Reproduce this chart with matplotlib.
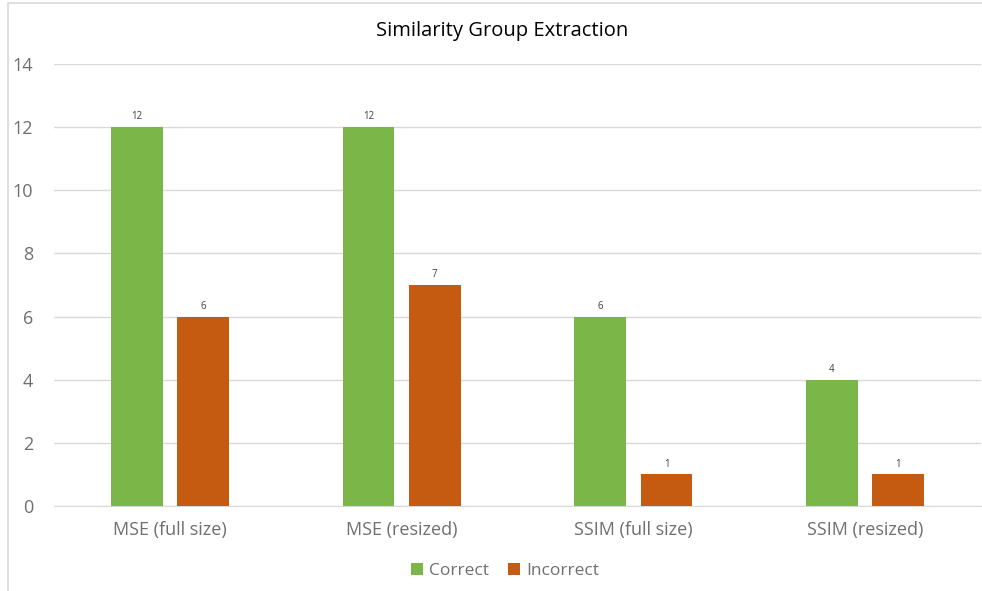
import matplotlib
matplotlib.use("Agg")
import matplotlib.pyplot as plt
import numpy as np
from matplotlib.patches import Rectangle

categories = ["MSE (full size)", "MSE (resized)", "SSIM (full size)", "SSIM (resized)"]
correct = [12, 12, 6, 4]
incorrect = [6, 7, 1, 1]
series_names = ["Correct", "Incorrect"]
yticks = [0, 2, 4, 6, 8, 10, 12, 14]

plt.rcParams["font.family"] = ["Open Sans", "DejaVu Sans"]

W, H = 982, 591
fig = plt.figure(figsize=(W / 100, H / 100), dpi=100)
fig.patch.set_facecolor("white")

# outer chart frame
fig.add_artist(Rectangle((8 / W, -0.01), 1.0, (H - 3) / H + 0.01, transform=fig.transFigure,
                         fill=False, edgecolor="#d9d9d9", linewidth=1.2))

ax = fig.add_axes([54 / W, (H - 506) / H, (981 - 54) / W, (506 - 64) / H])

x = np.arange(len(categories))
bw = 0.224
off = 0.143
green = "#7ab648"
orange = "#c55a11"
label_grey = "#6f6f6f"

b1 = ax.bar(x - off, correct, bw, color=green, label=series_names[0], zorder=3)
b2 = ax.bar(x + off, incorrect, bw, color=orange, label=series_names[1], zorder=3)

for bars, vals in ((b1, correct), (b2, incorrect)):
    for r, v in zip(bars, vals):
        ax.annotate(str(v), (r.get_x() + r.get_width() / 2, v), xytext=(0, 3.5),
                    textcoords="offset points", ha="center", va="bottom",
                    fontsize=7, color="#404040")

ax.set_xlim(-0.5, len(categories) - 0.5)
ax.set_ylim(0, 14)
ax.set_yticks(yticks)
ax.set_yticklabels([str(t) for t in yticks])
ax.set_xticks(x)
ax.set_xticklabels(categories)
ax.grid(axis="y", color="#d9d9d9", linewidth=1, zorder=0)
for s in ["top", "right", "left"]:
    ax.spines[s].set_visible(False)
ax.spines["bottom"].set_color("#d9d9d9")
ax.tick_params(axis="both", length=0, labelsize=13, colors=label_grey)
ax.tick_params(axis="y", pad=15)
ax.tick_params(axis="x", pad=11)

fig.text(502 / W, 1 - 31 / H, "Similarity Group Extraction", ha="center", va="center",
         fontsize=14.5, color="black")

leg = fig.legend(handles=[b1, b2], labels=series_names, loc="center",
                 bbox_to_anchor=(505 / W, 1 - 571 / H), ncol=2, frameon=False,
                 fontsize=12.5, handlelength=0.7, handleheight=0.7,
                 handletextpad=0.35, columnspacing=1.1)
for t in leg.get_texts():
    t.set_color(label_grey)

fig.savefig("out.png", dpi=100, facecolor="white")
